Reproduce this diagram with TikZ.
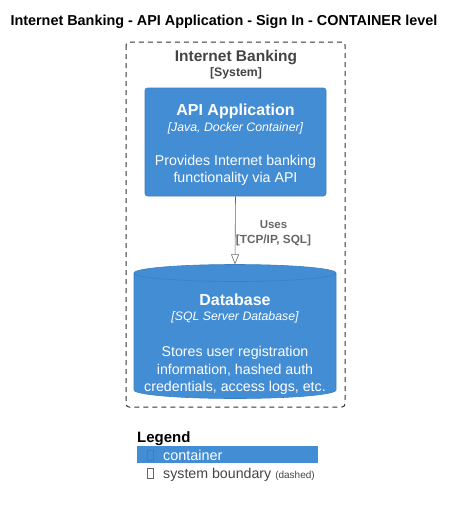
\documentclass[tikz,border=0pt]{standalone}
\usepackage{fontspec}
\setmainfont{Liberation Sans}
\usetikzlibrary{arrows.meta}
\definecolor{cblue}{HTML}{438DD5}
\definecolor{cblueb}{HTML}{3C7FC0}
\definecolor{bdgray}{HTML}{444444}
\definecolor{relgray}{HTML}{666666}
\tikzset{
  txt/.style={inner sep=0pt, anchor=base},
  ctbox/.style={draw=cblueb, fill=cblue, rounded corners=2.5pt, line width=0.6pt},
  wt/.style={text=white, txt},
}
\begin{document}
\begin{tikzpicture}[x=1pt,y=-1pt]
\useasboundingbox (0,0) rectangle (455,507);
% title
\node[txt, font=\bfseries\fontsize{14.4}{16}\selectfont] (title) at (224,25) {Internet Banking - API Application - Sign In - CONTAINER level};
% boundary
\draw[black!80, dash pattern=on 5pt off 4pt, rounded corners=3pt, line width=1pt] (126,42) rectangle (345,407);
\node[txt, text=bdgray, font=\bfseries\fontsize{15.5}{18}\selectfont] (bname) at (236,61) {Internet Banking};
\node[txt, text=bdgray, font=\bfseries\fontsize{12.3}{13}\selectfont] (btype) at (236,76) {[System]};
% API box
\node[ctbox, minimum width=181pt, minimum height=108pt, inner sep=0pt] (api) at (235.5,142) {};
\node[wt, font=\bfseries\fontsize{16}{18}\selectfont] (apit) at (235.5,115) {API Application};
\node[wt, font=\itshape\fontsize{12.3}{13}\selectfont] (apis) at (235.5,131) {[Java, Docker Container]};
\node[wt, font=\fontsize{14.2}{15}\selectfont] (apid1) at (235.5,165) {Provides Internet banking};
\node[wt, font=\fontsize{14.2}{15}\selectfont] (apid2) at (235.5,182) {functionality via API};
% database cylinder
\fill[cblue] (134,273) -- (134,390) arc[start angle=180, end angle=0, x radius=101, y radius=8.5] -- (336,273) arc[start angle=0, end angle=-180, x radius=101, y radius=8.5] -- cycle;
\draw[cblueb, line width=0.6pt] (134,273) -- (134,390) arc[start angle=180, end angle=0, x radius=101, y radius=8.5] -- (336,273) arc[start angle=0, end angle=-180, x radius=101, y radius=8.5] arc[start angle=180, end angle=0, x radius=101, y radius=8.5];
\node[inner sep=0pt, minimum width=202pt, minimum height=133.5pt] (db) at (235,331.25) {};
\node[wt, font=\bfseries\fontsize{16}{18}\selectfont] (dbt) at (235,305) {Database};
\node[wt, font=\itshape\fontsize{12.3}{13}\selectfont] (dbs) at (235,320) {[SQL Server Database]};
\node[wt, font=\fontsize{14.2}{15}\selectfont] (dbd1) at (235,356) {Stores user registration};
\node[wt, font=\fontsize{14.2}{15}\selectfont] (dbd2) at (235,374) {information, hashed auth};
\node[wt, font=\fontsize{14.2}{15}\selectfont] (dbd3) at (235,391) {credentials, access logs, etc.};
% relation
\draw[relgray, line width=0.6pt, -{Triangle[open, length=10pt, width=8pt]}] (api.south) -- (db.north);
\node[txt, text=relgray, font=\bfseries\fontsize{11.5}{13}\selectfont] (rel1) at (273.5,228) {Uses};
\node[txt, text=relgray, font=\bfseries\fontsize{11.8}{13}\selectfont] (rel2) at (273.5,243) {[TCP/IP, SQL]};
% legend
\node[txt, anchor=base west, font=\bfseries\fontsize{15}{16}\selectfont] (lg) at (137,442) {Legend};
\fill[cblue] (137,446) rectangle (318,463);
\draw[cblueb, line width=0.5pt] (147.5,450.5) rectangle (153.5,460.5);
\node[txt, anchor=base west, text=white, font=\fontsize{14.4}{15}\selectfont] (lg1) at (163,460) {container};
\draw[relgray, line width=0.5pt] (147.5,468.5) rectangle (153.5,478.5);
\node[txt, anchor=base west, text=bdgray, font=\fontsize{14.2}{15}\selectfont] (lg2) at (163,478) {system boundary {\fontsize{10}{10}\selectfont(dashed)}};
\end{tikzpicture}
\end{document}
